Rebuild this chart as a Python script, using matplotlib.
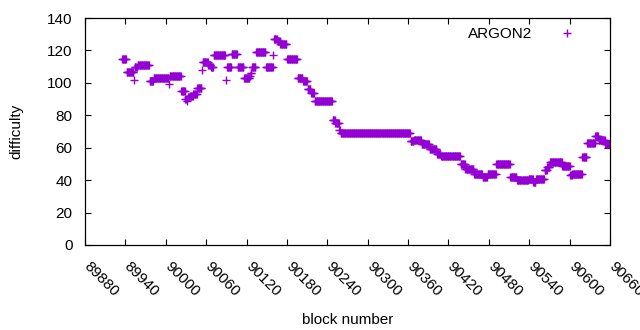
import numpy as np
import matplotlib
matplotlib.use("Agg")
import matplotlib.pyplot as plt
import matplotlib.transforms as mtransforms

plt.rcParams['font.family'] = ['Liberation Sans', 'DejaVu Sans']

# Runs of constant difficulty: (first block, last block, value)
run_start = [89935, 89942, 89953, 89954, 89958, 89976, 89982, 90005, 90006,
             90023, 90029, 90032, 90033, 90036, 90041, 90047, 90054, 90055,
             90063, 90067, 90071, 90089, 90091, 90098, 90107, 90116, 90125,
             90126, 90128, 90134, 90149, 90160, 90161, 90166, 90170, 90180,
             90196, 90204, 90211, 90216, 90221, 90248, 90252, 90258, 90260,
             90364, 90369, 90380, 90392, 90403, 90409, 90438, 90445, 90458,
             90471, 90478, 90491, 90512, 90522, 90539, 90546, 90550, 90563,
             90567, 90571, 90589, 90601, 90604, 90619, 90626, 90638, 90643,
             90653]
run_end = [89941, 89952, 89953, 89957, 89975, 89981, 90004, 90005, 90022,
           90028, 90031, 90032, 90035, 90040, 90046, 90053, 90054, 90062,
           90066, 90070, 90088, 90089, 90097, 90106, 90115, 90124, 90125,
           90127, 90133, 90148, 90159, 90160, 90165, 90169, 90179, 90195,
           90203, 90210, 90215, 90220, 90247, 90251, 90257, 90259, 90363,
           90368, 90379, 90391, 90402, 90408, 90437, 90444, 90457, 90470,
           90477, 90490, 90511, 90521, 90538, 90545, 90549, 90562, 90566,
           90570, 90588, 90600, 90603, 90618, 90625, 90637, 90642, 90652,
           90660]
run_value = [115, 107, 102, 110, 111, 101, 103, 99, 104,
             95, 90, 89, 91, 92, 93, 97, 108, 113,
             111, 110, 117, 102, 110, 118, 110, 103, 104,
             106, 110, 119, 110, 117, 127, 126, 124, 115,
             103, 101, 96, 94, 89, 77, 75, 71, 69,
             64, 65, 62, 59, 56, 55, 50, 47, 44,
             42, 44, 50, 42, 40, 41, 39, 41, 46,
             48, 51, 49, 43, 44, 54, 63, 67, 65,
             62]

x_ticks = list(range(89880, 90661, 60))
y_ticks = list(range(0, 141, 20))
series_name = "ARGON2"

blocks = np.concatenate([np.arange(s, e + 1) for s, e in zip(run_start, run_end)])
diffs = np.concatenate([np.full(e - s + 1, v, dtype=float)
                        for s, e, v in zip(run_start, run_end, run_value)])

FS = 11
fig = plt.figure(figsize=(6.4, 3.3), dpi=100)
ax = fig.add_axes([85/640, 1 - 245/330, 525/640, 227/330])

ax.plot(blocks, diffs, linestyle='none', marker='+', color='#9400D3',
        markersize=6, markeredgewidth=1.0, label=series_name)

ax.set_xlim(89880, 90660)
ax.set_ylim(0, 140)
ax.set_xticks(x_ticks)
ax.set_yticks(y_ticks)
ax.set_xticklabels([str(t) for t in x_ticks], rotation=-45, ha='left',
                   va='top', rotation_mode='anchor', fontsize=FS)
ax.set_yticklabels([str(t) for t in y_ticks], fontsize=FS)
ax.tick_params(direction='in', length=4, width=0.8, top=True, right=True)
ax.tick_params(axis='y', pad=9)
ax.tick_params(axis='x', pad=8)
shift = mtransforms.ScaledTranslation(6 / 100, -3 / 100, fig.dpi_scale_trans)
for lbl in ax.get_xticklabels():
    lbl.set_transform(lbl.get_transform() + shift)
for sp in ax.spines.values():
    sp.set_linewidth(0.9)

ax.set_xlabel('block number', fontsize=FS, labelpad=10)
ax.set_ylabel('difficulty', fontsize=FS, labelpad=17)

leg = ax.legend(loc='upper right', bbox_to_anchor=((587 - 85) / 525, 0.96),
                frameon=False, markerfirst=False, fontsize=FS,
                handlelength=2.6, handletextpad=1.0, borderaxespad=0,
                borderpad=0)

fig.savefig('out.png', dpi=100)
